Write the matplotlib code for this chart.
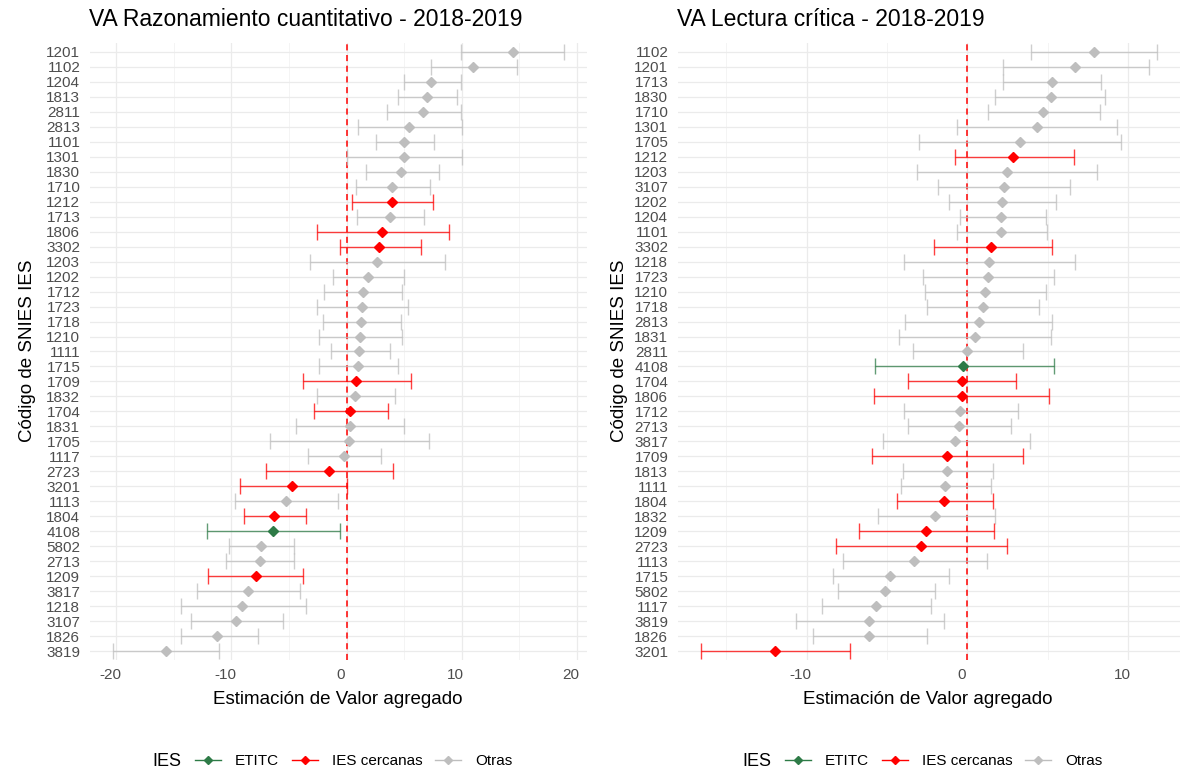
import matplotlib
matplotlib.use('Agg')
import matplotlib.pyplot as plt
import matplotlib.transforms as mtransforms
from matplotlib.lines import Line2D
from matplotlib.ticker import MultipleLocator

plt.rcParams['font.family'] = ['Liberation Sans', 'DejaVu Sans']
plt.rcParams['axes.unicode_minus'] = False

# Razonamiento cuantitativo (top to bottom)
rc_codes = ['1201', '1102', '1204', '1813', '2811', '2813', '1101', '1301', '1830', '1710',
            '1212', '1713', '1806', '3302', '1203', '1202', '1712', '1723', '1718', '1210',
            '1111', '1715', '1709', '1832', '1704', '1831', '1705', '1117', '2723', '3201',
            '1113', '1804', '4108', '5802', '2713', '1209', '3817', '1218', '3107', '1826', '3819']
rc_va = [14.4, 11.0, 7.35, 7.0, 6.6, 5.4, 4.97, 4.97, 4.7, 3.9,
         3.9, 3.8, 3.1, 2.85, 2.68, 1.89, 1.46, 1.32, 1.22, 1.19,
         1.06, 1.0, 0.86, 0.76, 0.3, 0.3, 0.17, -0.26, -1.52, -4.7,
         -5.26, -6.29, -6.42, -7.42, -7.55, -7.85, -8.58, -9.04, -9.6, -11.2, -15.7]
rc_low = [9.93, 7.3, 5.0, 4.5, 3.48, 1.03, 2.55, 0.0, 1.66, 0.83,
          0.46, 0.93, -2.58, -0.56, -3.18, -1.19, -1.92, -2.58, -2.02, -2.38,
          -1.36, -2.38, -3.74, -2.58, -2.81, -4.4, -6.66, -3.38, -7.02, -9.24,
          -9.64, -8.94, -12.1, -10.2, -10.5, -12.05, -13.0, -14.4, -13.5, -14.4, -20.3]
rc_high = [18.9, 14.8, 9.93, 9.57, 9.93, 10.0, 7.6, 10.0, 7.98, 7.28,
           7.5, 6.7, 8.9, 6.5, 8.54, 5.0, 4.8, 5.3, 4.7, 4.8,
           3.77, 4.47, 5.56, 4.2, 3.58, 5.0, 7.19, 2.98, 4.0, 0.0,
           -0.76, -3.48, -0.53, -4.54, -4.54, -3.74, -4.07, -3.48, -5.53, -7.68, -11.1]

# Lectura critica (top to bottom)
lc_codes = ['1102', '1201', '1713', '1830', '1710', '1301', '1705', '1212', '1203', '3107',
            '1202', '1204', '1101', '3302', '1218', '1723', '1210', '1718', '2813', '1831',
            '2811', '4108', '1704', '1806', '1712', '2713', '3817', '1709', '1813', '1111',
            '1804', '1832', '1209', '2723', '1113', '1715', '5802', '1117', '3819', '1826', '3201']
lc_va = [7.88, 6.69, 5.24, 5.17, 4.71, 4.33, 3.26, 2.83, 2.45, 2.29,
         2.17, 2.1, 2.1, 1.5, 1.36, 1.29, 1.12, 0.95, 0.71, 0.48,
         -0.05, -0.26, -0.36, -0.36, -0.45, -0.55, -0.76, -1.29, -1.29, -1.36,
         -1.43, -2.02, -2.6, -2.9, -3.33, -4.79, -5.12, -5.69, -6.1, -6.1, -11.95]
lc_low = [3.95, 2.21, 2.21, 1.71, 1.31, -0.67, -3.02, -0.79, -3.12, -1.81,
          -1.14, -0.48, -0.64, -2.1, -3.93, -2.76, -2.62, -2.52, -3.86, -4.26,
          -3.36, -5.74, -3.69, -5.81, -3.93, -3.69, -5.24, -5.9, -4.0, -4.1,
          -4.36, -5.57, -6.76, -8.17, -7.76, -8.36, -8.02, -9.02, -10.67, -9.6, -16.57]
lc_high = [11.8, 11.3, 8.31, 8.57, 8.24, 9.29, 9.55, 6.6, 8.05, 6.4,
           5.52, 4.86, 4.93, 5.29, 6.67, 5.36, 4.86, 4.45, 5.26, 5.19,
           3.48, 5.36, 3.05, 5.1, 3.14, 2.71, 3.88, 3.48, 1.57, 1.48,
           1.57, 1.74, 1.64, 2.48, 1.24, -1.12, -2.02, -2.29, -1.45, -2.52, -7.29]

etitc = ['4108']
cercanas = ['1212', '1806', '3302', '1709', '1704', '2723', '3201', '1804', '1209']

groups = ['ETITC', 'IES cercanas', 'Otras']
colors = {'ETITC': '#2E7B47', 'IES cercanas': '#FF0000', 'Otras': '#BEBEBE'}


def group_of(code):
    if code in etitc:
        return 'ETITC'
    if code in cercanas:
        return 'IES cercanas'
    return 'Otras'


def panel(ax, codes, va, low, high, major):
    n = len(codes)
    ypos = [n - 1 - i for i in range(n)]
    for i, c in enumerate(codes):
        col = colors[group_of(c)]
        ax.errorbar(va[i], ypos[i], xerr=[[va[i] - low[i]], [high[i] - va[i]]],
                    fmt='none', ecolor=col, elinewidth=1.0, capsize=5.5,
                    capthick=1.0, alpha=0.75, zorder=3)
        ax.plot(va[i], ypos[i], marker='D', color=col, markersize=4.6, zorder=4)
    ax.axvline(0, color='#FF0000', linestyle=(0, (4, 3)), linewidth=1.1, zorder=2)
    ax.set_yticks(ypos)
    ax.set_yticklabels(codes)
    ax.set_ylim(-0.6, n - 0.4)
    lo, hi = min(low), max(high)
    pad = 0.05 * (hi - lo)
    ax.set_xlim(lo - pad, hi + pad)
    ax.xaxis.set_major_locator(MultipleLocator(major))
    ax.xaxis.set_minor_locator(MultipleLocator(major / 2))
    ax.grid(True, which='major', color='#EBEBEB', linewidth=0.9, zorder=0)
    ax.grid(True, which='minor', axis='x', color='#F2F2F2', linewidth=0.6, zorder=0)
    ax.set_axisbelow(True)
    for s in ax.spines.values():
        s.set_visible(False)
    ax.tick_params(which='both', length=0, labelsize=11, labelcolor='#4D4D4D')
    ax.tick_params(axis='y', pad=7)
    ax.tick_params(axis='x', pad=6)
    shift = mtransforms.ScaledTranslation(-6 / 100, 0, ax.figure.dpi_scale_trans)
    for lab in ax.get_xticklabels():
        lab.set_transform(lab.get_transform() + shift)


fig = plt.figure(figsize=(11.97, 7.71), dpi=100)
ax1 = fig.add_axes([90 / 1197, 1 - 660 / 771, 497 / 1197, 617 / 771])
ax2 = fig.add_axes([678 / 1197, 1 - 660 / 771, 502 / 1197, 617 / 771])

panel(ax1, rc_codes, rc_va, rc_low, rc_high, 10)
panel(ax2, lc_codes, lc_va, lc_low, lc_high, 10)

fig.text(89 / 1197, 1 - 20 / 771, 'VA Razonamiento cuantitativo - 2018-2019',
         fontsize=16.5, va='center', ha='left')
fig.text(677 / 1197, 1 - 20 / 771, 'VA Lectura crítica - 2018-2019',
         fontsize=16.5, va='center', ha='left')

for x in (28, 619):
    fig.text(x / 1197, 1 - 351 / 771, 'Código de SNIES IES', rotation=90,
             fontsize=13.5, va='center', ha='center')
for x in (338, 928):
    fig.text(x / 1197, 1 - 699 / 771, 'Estimación de Valor agregado',
             fontsize=13.5, va='center', ha='center')

handles = [Line2D([0], [0], color=colors[g], marker='D', markersize=4, linewidth=1.0)
           for g in groups]
for xt, xl in ((152, 195), (742, 785)):
    fig.text(xt / 1197, 1 - 761 / 771, 'IES', fontsize=13, va='center', ha='left')
    fig.legend(handles, groups, loc='center left', bbox_to_anchor=(xl / 1197, 1 - 761 / 771),
               ncol=3, frameon=False, fontsize=11, handlelength=1.7, handletextpad=0.9,
               columnspacing=0.85, borderaxespad=0, borderpad=0)

fig.savefig('out.png', dpi=100)
